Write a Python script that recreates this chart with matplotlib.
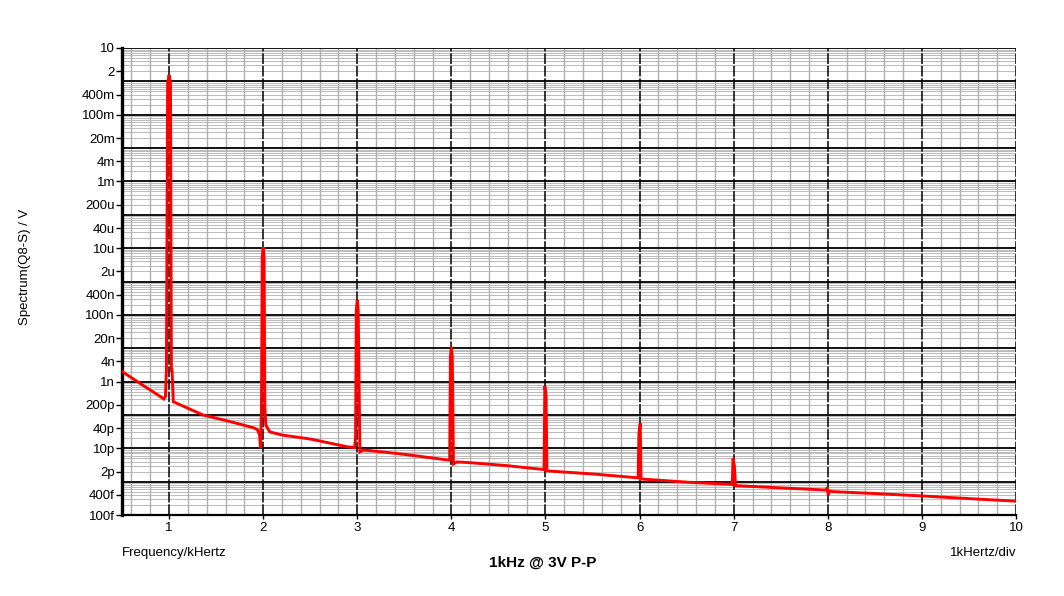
import matplotlib
matplotlib.use("Agg")
import matplotlib.pyplot as plt
import numpy as np

plt.rcParams["font.family"] = ["Liberation Sans", "DejaVu Sans"]

# spectrum trace, frequency in kHz, amplitude in V
freq_khz = [
    0.5, 0.62, 0.76, 0.88, 0.945, 0.962, 0.972,
    0.985, 1.0, 1.015, 1.025, 1.032, 1.045,
    1.12, 1.36, 1.65, 1.9, 1.94, 1.962, 1.972, 1.982,
    1.99, 2.0, 2.01, 2.018, 2.028,
    2.07, 2.2, 2.5, 2.9, 2.972, 2.982,
    2.99, 3.0, 3.01, 3.028,
    3.07, 3.46, 3.95, 3.982,
    3.99, 4.0, 4.01, 4.022,
    4.06, 4.2, 4.6, 4.985,
    4.993, 5.007, 5.015,
    5.5, 5.985,
    5.993, 6.007, 6.015,
    6.54, 6.985,
    6.993, 7.007, 7.02,
    7.5, 7.98,
    7.995, 8.005, 8.02,
    8.06, 8.5, 9.02, 9.5, 10.0,
]
spectrum_v = [
    2.0e-9, 1.2e-9, 6.6e-10, 4.0e-10, 3.0e-10, 3.6e-10, 2.2e-9,
    0.89, 1.55, 0.89, 2.2e-9, 2.2e-9, 2.5e-10,
    2.0e-10, 1.0e-10, 6.3e-11, 4.1e-11, 3.6e-11, 2.5e-11, 1.0e-11, 1.4e-10,
    5.4e-6, 1.07e-5, 5.4e-6, 1.7e-10, 5.0e-11,
    3.1e-11, 2.5e-11, 1.9e-11, 1.1e-11, 1.05e-11, 2.2e-11,
    1.4e-7, 2.8e-7, 1.4e-7, 7.8e-12,
    8.9e-12, 6.8e-12, 4.5e-12, 4.4e-12,
    5.5e-9, 1.1e-8, 5.5e-9, 3.4e-12,
    3.9e-12, 3.7e-12, 3.0e-12, 2.3e-12,
    7.4e-10, 3.5e-10, 2.1e-12,
    1.7e-12, 1.3e-12,
    2.8e-11, 5.6e-11, 1.2e-12,
    9.5e-13, 8.3e-13,
    5.0e-12, 3.0e-12, 7.6e-13,
    6.5e-13, 5.6e-13,
    6.7e-13, 4.0e-13, 5.2e-13,
    5.0e-13, 4.4e-13, 3.7e-13, 3.1e-13, 2.6e-13,
]

ytick_vals = [10, 2, 0.4, 0.1, 0.02, 0.004, 1e-3, 2e-4, 4e-5, 1e-5, 2e-6,
              4e-7, 1e-7, 2e-8, 4e-9, 1e-9, 2e-10, 4e-11, 1e-11, 2e-12,
              4e-13, 1e-13]
ytick_labels = ["10", "2", "400m", "100m", "20m", "4m", "1m", "200u", "40u",
                "10u", "2u", "400n", "100n", "20n", "4n", "1n", "200p", "40p",
                "10p", "2p", "400f", "100f"]
xtick_vals = [1, 2, 3, 4, 5, 6, 7, 8, 9, 10]

fig = plt.figure(figsize=(10.64, 5.96), dpi=100)
ax = fig.add_axes([122 / 1064, 1 - 515 / 596, (1016 - 122) / 1064, (515 - 48) / 596])
ax.set_yscale("log")
ax.set_xlim(0.5, 10)
ax.set_ylim(1e-13, 10)

# grid: grey minor lines, black decade lines, dashed black kHz lines
for e in range(-13, 1):
    for m in range(2, 10):
        ax.axhline(m * 10.0 ** e, color="#bdbdbd", lw=0.75, zorder=1)
for xv in np.arange(0.6, 10.0, 0.2):
    if abs(xv - round(xv)) > 1e-6:
        ax.axvline(xv, color="#b0b0b0", lw=1.0, zorder=1)
for e in range(-12, 2):
    ax.axhline(10.0 ** e, color="black", lw=1.3, zorder=2)
for xv in xtick_vals:
    ax.axvline(xv, color="black", lw=1.1, dashes=(7, 1.2), zorder=2)

ax.plot(freq_khz, spectrum_v, color="#ff0000", lw=2.1, zorder=3,
        solid_joinstyle="miter")

ax.set_yticks(ytick_vals)
ax.set_yticklabels(ytick_labels)
ax.yaxis.set_minor_locator(matplotlib.ticker.NullLocator())
ax.set_xticks(xtick_vals)
ax.set_xticklabels([str(v) for v in xtick_vals])
ax.tick_params(axis="y", length=4, width=1, pad=1, labelsize=9.5, direction="out")
ax.tick_params(axis="x", length=3, width=1, pad=2, labelsize=9.5, direction="out")

for side in ["top", "right"]:
    ax.spines[side].set_visible(False)
ax.spines["left"].set_linewidth(2.4)
ax.spines["bottom"].set_linewidth(1.6)

fig.text(122 / 1064, 1 - 553 / 596, "Frequency/kHertz", fontsize=9.5,
         ha="left", va="center")
fig.text(1016 / 1064, 1 - 553 / 596, "1kHertz/div", fontsize=9.5,
         ha="right", va="center")
fig.text(543 / 1064, 1 - 563 / 596, "1kHz @ 3V P-P", fontsize=11,
         fontweight="bold", ha="center", va="center")
fig.text(25 / 1064, 1 - 267 / 596, "Spectrum(Q8-S) / V", fontsize=9.5,
         rotation=90, ha="center", va="center")

fig.savefig("out.png", dpi=100)
plt.close(fig)
